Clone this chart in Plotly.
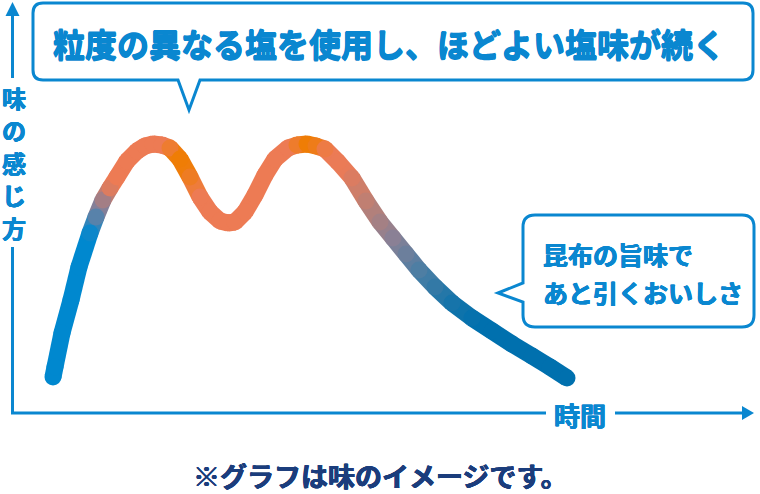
import plotly.graph_objects as go

# ---- data: taste intensity over time (arbitrary units, origin at axis corner) ----
time = [41, 43, 50, 59, 67, 78, 84, 91, 98, 105, 115, 125, 133, 141, 150, 158, 168,
        178, 188, 198, 208, 216, 223, 233, 243, 253, 263, 276, 285, 295, 304, 313,
        326, 340, 354, 368, 381, 394, 407, 423, 440, 460, 480, 500, 520, 538, 555]
taste = [35, 45, 79, 112, 145, 179, 195, 212, 224, 235, 251, 261, 266, 268, 267, 264, 253,
         235, 215, 200, 191, 189, 190, 200, 217, 237, 253, 264, 267, 268, 266, 263,
         250, 234, 211, 190, 174, 158, 142, 125, 109, 94, 81, 68, 56, 45, 34]

title_text = "粒度の異なる塩を使用し、ほどよい塩味が続く"
note_lines = ["昆布の旨味で", "あと引くおいしさ"]
y_label = "味の感じ方"
x_label = "時間"
footnote = "※グラフは味のイメージです。"

# ---- styling ----
W, H = 760, 494
OX, OY = 12, 412          # pixel position of the axis origin
BLUE = "#0a87d0"
NAVY = "#1b3d7c"
FONT = "Noto Sans CJK JP"
LW = 17
SALMON = "#ed7b54"
ORANGE = "#ef7d05"

# horizontal colour gradient of the curve (stops in time units)
stops = [(77, "#0088cf"), (88, "#8a7f95"), (100, SALMON), (153, SALMON),
         (164, ORANGE), (172, ORANGE), (188, SALMON), (278, SALMON),
         (292, ORANGE), (300, ORANGE), (316, SALMON), (333, "#e97b58"),
         (359, "#b68078"), (381, "#8a8095"), (407, "#4e7ea3"), (440, "#1674aa"),
         (468, "#0070ae")]


def hex2rgb(h):
    h = h.lstrip("#")
    return [int(h[i:i + 2], 16) for i in (0, 2, 4)]


def color_at(t):
    if t <= stops[0][0]:
        return stops[0][1]
    if t >= stops[-1][0]:
        return stops[-1][1]
    for (t0, c0), (t1, c1) in zip(stops, stops[1:]):
        if t0 <= t <= t1:
            f = (t - t0) / (t1 - t0) if t1 > t0 else 0
            a, b = hex2rgb(c0), hex2rgb(c1)
            return "rgb(%d,%d,%d)" % tuple(round(a[i] + (b[i] - a[i]) * f) for i in range(3))
    return stops[-1][1]


fig = go.Figure()
for i in range(len(time) - 1):
    mid = (time[i] + time[i + 1]) / 2
    fig.add_trace(go.Scatter(x=time[i:i + 2], y=taste[i:i + 2], mode="lines",
                             line=dict(color=color_at(mid), width=LW),
                             hoverinfo="skip", showlegend=False))
fig.add_trace(go.Scatter(x=time, y=taste, mode="markers",
                         marker=dict(size=LW, color=[color_at(t) for t in time],
                                     line=dict(width=0)),
                         hoverinfo="skip", showlegend=False))


def X(px):
    return px / W


def Y(py):
    return 1 - py / H


def path(points):
    out = []
    for p in points:
        if isinstance(p, str):
            out.append(p)
        else:
            out.append("%.5f,%.5f" % (X(p[0]), Y(p[1])))
    return " ".join(out)


shapes = []
# top callout box
shapes.append(dict(type="path", xref="paper", yref="paper",
                   path=path(["M", (43, 3), "L", (743, 3), "Q", (753, 3), (753, 13),
                              "L", (753, 70), "Q", (753, 80), (743, 80),
                              "L", (200, 80), "L", (189, 110), "L", (178, 80),
                              "L", (43, 80), "Q", (33, 80), (33, 70),
                              "L", (33, 13), "Q", (33, 3), (43, 3), "Z"]),
                   line=dict(color=BLUE, width=3), fillcolor="white"))
# right callout box
shapes.append(dict(type="path", xref="paper", yref="paper",
                   path=path(["M", (535, 215), "L", (742, 215), "Q", (754, 215), (754, 227),
                              "L", (754, 315), "Q", (754, 327), (742, 327),
                              "L", (535, 327), "Q", (523, 327), (523, 315),
                              "L", (523, 302), "L", (498, 293), "L", (523, 283),
                              "L", (523, 227), "Q", (523, 215), (535, 215), "Z"]),
                   line=dict(color=BLUE, width=3), fillcolor="white"))
# axis lines
for (x0, y0, x1, y1) in [(12.5, 14, 12.5, 78), (12.5, 247, 12.5, 413.5),
                         (11, 413, 546, 413), (615, 413, 746, 413)]:
    shapes.append(dict(type="line", xref="paper", yref="paper",
                       x0=X(x0), y0=Y(y0), x1=X(x1), y1=Y(y1),
                       line=dict(color=BLUE, width=3)))
# arrow heads
shapes.append(dict(type="path", xref="paper", yref="paper",
                   path=path(["M", (12.5, 2), "L", (19.5, 16), "L", (5.5, 16), "Z"]),
                   line=dict(width=0), fillcolor=BLUE))
shapes.append(dict(type="path", xref="paper", yref="paper",
                   path=path(["M", (754, 413), "L", (742, 406), "L", (742, 420), "Z"]),
                   line=dict(width=0), fillcolor=BLUE))


def heavy(color, d=0.6):
    return ("%spx 0 0 %s, -%spx 0 0 %s, 0 %spx 0 %s, 0 -%spx 0 %s"
            % (d, color, d, color, d, color, d, color))


ann = []
ann.append(dict(text=title_text, x=X(389), y=Y(43), xref="paper", yref="paper",
                xanchor="center", yanchor="middle", showarrow=False,
                font=dict(family=FONT, size=32, color=BLUE, weight="bold",
                          shadow=heavy(BLUE))))
for j, line in enumerate(note_lines):
    ann.append(dict(text=line, x=X(541), y=Y(254 + 38 * j), xref="paper", yref="paper",
                    xanchor="left", yanchor="middle", showarrow=False,
                    font=dict(family=FONT, size=25, color=BLUE, weight="bold",
                              shadow=heavy(BLUE, 0.4))))
for j, ch in enumerate(y_label):
    ann.append(dict(text=ch, x=X(13.5), y=Y(97 + 32.5 * j), xref="paper", yref="paper",
                    xanchor="center", yanchor="middle", showarrow=False,
                    font=dict(family=FONT, size=24, color=BLUE, weight="bold",
                              shadow=heavy(BLUE, 0.4))))
ann.append(dict(text=x_label, x=X(580), y=Y(414), xref="paper", yref="paper",
                xanchor="center", yanchor="middle", showarrow=False,
                font=dict(family=FONT, size=26, color=BLUE, weight="bold",
                          shadow=heavy(BLUE, 0.4))))
ann.append(dict(text=footnote, x=X(381), y=Y(475), xref="paper", yref="paper",
                xanchor="center", yanchor="middle", showarrow=False,
                font=dict(family=FONT, size=27, color=NAVY, weight="bold",
                          shadow=heavy(NAVY, 0.4))))

fig.update_layout(
    width=W, height=H, margin=dict(l=0, r=0, t=0, b=0),
    paper_bgcolor="white", plot_bgcolor="white",
    xaxis=dict(range=[-OX, W - OX], visible=False, fixedrange=True),
    yaxis=dict(range=[OY - H, OY], visible=False, fixedrange=True),
    shapes=shapes, annotations=ann, showlegend=False,
)
fig.write_html("out.html", config={"displayModeBar": False},
               post_script="document.body.style.margin='0px';document.body.style.overflow='hidden';")
